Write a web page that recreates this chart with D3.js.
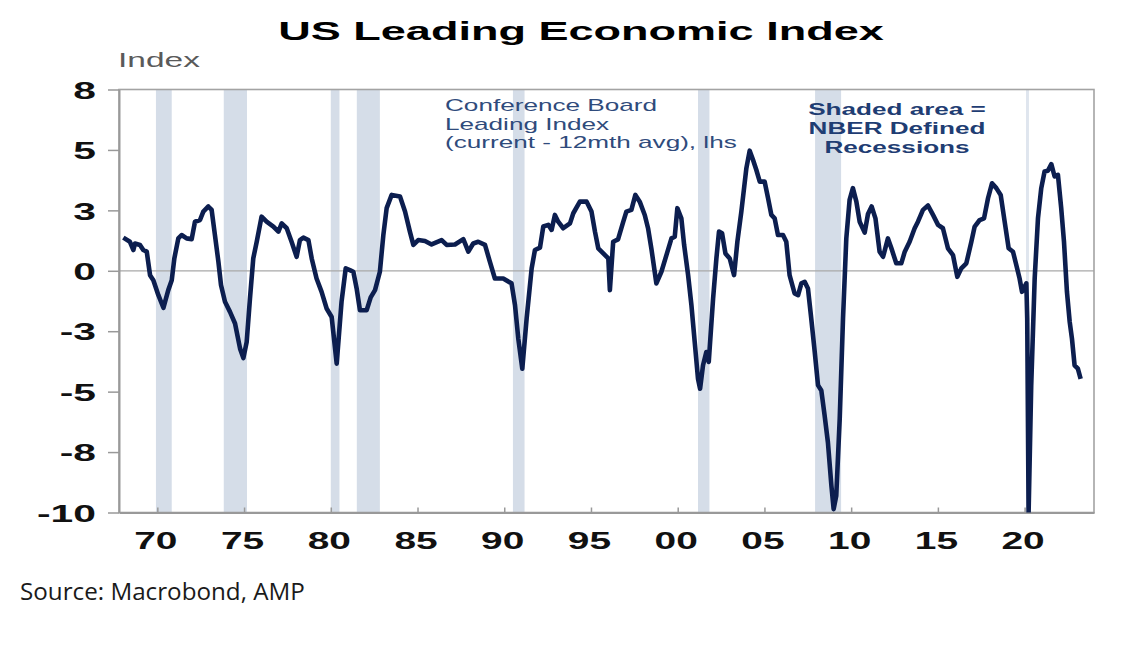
<!DOCTYPE html>
<html>
<head>
<meta charset="utf-8">
<script src="https://cdn.jsdelivr.net/npm/d3@7"></script>
<style>
  body { margin: 0; background: #fff; }
  text { font-family: "Liberation Sans", Arial, sans-serif; }
</style>
</head>
<body>
<svg id="chart"></svg>
<script>
// LEI, current minus 12 month average
const years = [
  1968.04, 1968.42, 1968.62, 1968.71, 1969.0, 1969.19, 1969.39, 1969.58, 1969.77, 1970.06,
  1970.35, 1970.63, 1970.83, 1970.98, 1971.21, 1971.4, 1971.69, 1971.98, 1972.17, 1972.46,
  1972.65, 1972.94, 1973.13, 1973.32, 1973.52, 1973.67, 1973.9, 1974.19, 1974.48, 1974.77,
  1974.96, 1975.15, 1975.34, 1975.53, 1975.73, 1976.01, 1976.3, 1976.69, 1976.98, 1977.17,
  1977.46, 1977.74, 1978.03, 1978.22, 1978.42, 1978.71, 1978.9, 1979.18, 1979.47, 1979.76,
  1980.05, 1980.34, 1980.62, 1980.86, 1981.1, 1981.3, 1981.49, 1981.68, 1982.07, 1982.3,
  1982.55, 1982.83, 1983.03, 1983.22, 1983.51, 1983.99, 1984.28, 1984.56, 1984.76, 1985.04,
  1985.43, 1985.81, 1986.39, 1986.68, 1987.16, 1987.64, 1987.93, 1988.21, 1988.5, 1988.89,
  1989.17, 1989.46, 1989.94, 1990.42, 1990.62, 1990.81, 1991.04, 1991.29, 1991.58, 1991.77,
  1992.06, 1992.25, 1992.54, 1992.73, 1992.92, 1993.11, 1993.4, 1993.79, 1993.98, 1994.36,
  1994.75, 1995.03, 1995.23, 1995.42, 1995.71, 1996.0, 1996.09, 1996.28, 1996.56, 1996.85,
  1997.04, 1997.33, 1997.56, 1997.81, 1998.1, 1998.29, 1998.48, 1998.77, 1999.06, 1999.35,
  1999.64, 1999.83, 1999.98, 2000.21, 2000.37, 2000.6, 2000.79, 2000.98, 2001.17, 2001.29,
  2001.46, 2001.65, 2001.79, 2002.04, 2002.23, 2002.38, 2002.56, 2002.75, 2003.0, 2003.25,
  2003.44, 2003.67, 2003.96, 2004.15, 2004.34, 2004.53, 2004.73, 2005.01, 2005.21, 2005.4,
  2005.59, 2005.78, 2006.07, 2006.26, 2006.45, 2006.74, 2006.94, 2007.13, 2007.32, 2007.51,
  2007.7, 2007.9, 2008.09, 2008.28, 2008.47, 2008.66, 2008.86, 2008.99, 2009.14, 2009.34,
  2009.53, 2009.72, 2009.91, 2010.1, 2010.3, 2010.49, 2010.78, 2010.97, 2011.18, 2011.4,
  2011.64, 2011.84, 2012.12, 2012.32, 2012.6, 2012.89, 2013.09, 2013.37, 2013.66, 2013.85,
  2014.14, 2014.43, 2014.72, 2015.01, 2015.29, 2015.58, 2015.87, 2016.12, 2016.35, 2016.64,
  2016.93, 2017.12, 2017.41, 2017.66, 2017.89, 2018.12, 2018.37, 2018.62, 2018.85, 2019.08,
  2019.33, 2019.52, 2019.71, 2019.85, 2020.1, 2020.15, 2020.23, 2020.38, 2020.58, 2020.77,
  2020.96, 2021.15, 2021.34, 2021.54, 2021.73, 2021.92, 2022.11, 2022.27, 2022.44, 2022.6,
  2022.73, 2022.88, 2023.07, 2023.23
];
const values = [
  1.37, 1.20, 0.86, 1.13, 1.07, 0.86, 0.79, -0.18, -0.39, -1.01,
  -1.53, -0.80, -0.39, 0.51, 1.34, 1.48, 1.34, 1.31, 2.03, 2.10,
  2.45, 2.66, 2.52, 1.48, 0.38, -0.59, -1.28, -1.70, -2.18, -3.22,
  -3.61, -2.95, -1.15, 0.51, 1.20, 2.24, 2.03, 1.83, 1.62, 1.96,
  1.76, 1.20, 0.58, 1.27, 1.37, 1.27, 0.51, -0.32, -0.87, -1.56,
  -1.91, -3.84, -1.28, 0.10, 0.03, -0.04, -0.73, -1.63, -1.63, -1.10,
  -0.80, -0.04, 1.48, 2.59, 3.14, 3.07, 2.45, 1.62, 1.07, 1.27,
  1.23, 1.09, 1.27, 1.07, 1.09, 1.31, 0.79, 1.13, 1.20, 1.07,
  0.38, -0.32, -0.32, -0.52, -1.42, -2.81, -4.05, -1.98, 0.10, 0.86,
  0.96, 1.83, 1.90, 1.69, 2.31, 2.03, 1.76, 1.96, 2.38, 2.86,
  2.86, 2.45, 1.62, 0.93, 0.72, 0.51, -0.80, 1.20, 1.30, 2.00,
  2.45, 2.52, 3.14, 2.86, 2.31, 1.76, 0.93, -0.52, -0.04, 0.65,
  1.34, 1.41, 2.59, 2.17, 1.07, -0.18, -1.42, -2.94, -4.47, -4.88,
  -3.91, -3.36, -3.77, -1.15, 0.51, 1.62, 1.55, 0.72, 0.51, -0.18,
  1.20, 2.45, 4.25, 4.97, 4.59, 4.18, 3.69, 3.69, 3.00, 2.31,
  2.17, 1.48, 1.48, 1.20, -0.18, -0.94, -1.01, -0.52, -0.46, -0.73,
  -1.98, -3.36, -4.74, -4.95, -5.99, -7.10, -8.89, -9.86, -9.31, -6.13,
  -1.98, 1.34, 2.93, 3.42, 2.86, 2.03, 1.58, 2.35, 2.66, 2.17,
  0.79, 0.58, 1.34, 0.93, 0.31, 0.31, 0.79, 1.20, 1.76, 2.03,
  2.52, 2.70, 2.31, 1.90, 1.76, 0.93, 0.65, -0.25, 0.10, 0.31,
  1.20, 1.83, 2.10, 2.17, 3.00, 3.62, 3.42, 3.14, 2.03, 0.93,
  0.79, 0.24, -0.32, -0.87, -0.52, -1.98, -10.0, -4.74, -0.32, 2.17,
  3.42, 4.11, 4.14, 4.41, 3.90, 3.97, 2.59, 1.20, -0.87, -2.12,
  -2.81, -3.91, -4.05, -4.47
];

// NBER recessions
const recStart = [1969.92, 1973.83, 1980.0, 1981.5, 1990.5, 2001.17, 2007.92, 2020.08];
const recEnd   = [1970.83, 1975.17, 1980.5, 1982.83, 1991.17, 2001.83, 2009.42, 2020.25];

// axis ticks
const xTickYears = [1970, 1975, 1980, 1985, 1990, 1995, 2000, 2005, 2010, 2015, 2020];
const xTickLabels = ["70", "75", "80", "85", "90", "95", "00", "05", "10", "15", "20"];
const yTickValues = [7.5, 5, 2.5, 0, -2.5, -5, -7.5, -10];
const yTickLabels = ["8", "5", "3", "0", "-3", "-5", "-8", "-10"];

const width = 1139;
const height = 646;
const plotLeft = 119, plotRight = 1094, plotTop = 89.5, plotBottom = 512.5;
const stretch = 1.62; // the source image is stretched sideways

const svg = d3.select('#chart')
    .attr('width', width)
    .attr('height', height)
    .attr('viewBox', [0, 0, width, height]);

const x = d3.scaleLinear().domain([1967.79, 2024.0]).range([plotLeft, plotRight]);
const y = d3.scaleLinear().domain([-10, 7.5]).range([plotBottom, plotTop]);

// squeeze/stretch a text to a given width
function fitText(sel, tx, ty, w) {
  const natural = sel.node().getComputedTextLength();
  sel.attr('transform', `translate(${tx},${ty}) scale(${w / natural},1)`);
}

// recession bars
svg.append('g')
  .selectAll('rect')
  .data(recStart)
  .join('rect')
    .attr('x', d => x(d))
    .attr('y', plotTop)
    .attr('width', (d, i) => Math.max(1.5, x(recEnd[i]) - x(d)))
    .attr('height', plotBottom - plotTop)
    .attr('fill', (d, i) => i === recStart.length - 1 ? '#dfe5ee' : '#d5dde8');

// zero line
svg.append('line')
    .attr('x1', plotLeft).attr('x2', plotRight)
    .attr('y1', y(0)).attr('y2', y(0))
    .attr('stroke', '#a8a8a8')
    .attr('stroke-width', 1.2);

// frame
svg.append('rect')
    .attr('x', plotLeft).attr('y', plotTop)
    .attr('width', plotRight - plotLeft).attr('height', plotBottom - plotTop)
    .attr('fill', 'none')
    .attr('stroke', '#a3a3a3')
    .attr('stroke-width', 1.6);

// y axis
const yAxis = svg.append('g')
    .attr('transform', `translate(${plotLeft},0)`)
    .call(d3.axisLeft(y)
      .tickValues(yTickValues)
      .tickFormat((d, i) => yTickLabels[i])
      .tickSize(11)
      .tickSizeOuter(0));
yAxis.select('.domain').attr('stroke', '#999').attr('stroke-width', 2);
yAxis.selectAll('.tick line').attr('stroke', '#999').attr('stroke-width', 1.5);
yAxis.selectAll('.tick text')
    .attr('x', 0).attr('dy', '0.36em')
    .attr('transform', `translate(-23,0) scale(${stretch + 0.08},1)`)
    .attr('fill', '#111')
    .style('font-size', '24px')
    .style('font-weight', 'bold');

// x axis
const xAxis = svg.append('g')
    .attr('transform', `translate(0,${plotBottom})`)
    .call(d3.axisBottom(x)
      .tickValues(xTickYears)
      .tickFormat((d, i) => xTickLabels[i])
      .tickSize(-5)
      .tickSizeOuter(0));
xAxis.select('.domain').attr('stroke', '#999').attr('stroke-width', 2);
xAxis.selectAll('.tick line').attr('stroke', '#999').attr('stroke-width', 1.5);
xAxis.selectAll('.tick text')
    .attr('y', 0).attr('dy', 0)
    .attr('transform', `translate(-2,36) scale(${stretch},1)`)
    .attr('fill', '#111')
    .style('font-size', '24px')
    .style('font-weight', 'bold');

// the index line
const points = years.map((d, i) => [d, values[i]]);
svg.append('defs').append('clipPath').attr('id', 'plot-clip')
  .append('rect')
    .attr('x', plotLeft).attr('y', plotTop - 2)
    .attr('width', plotRight - plotLeft).attr('height', plotBottom - plotTop + 2);

svg.append('path')
    .datum(points)
    .attr('clip-path', 'url(#plot-clip)')
    .attr('fill', 'none')
    .attr('stroke', '#0c1e4f')
    .attr('stroke-width', 4.6)
    .attr('stroke-linejoin', 'round')
    .attr('d', d3.line().x(d => x(d[0])).y(d => y(d[1])));

// title
const title = svg.append('text')
    .attr('text-anchor', 'middle')
    .attr('fill', '#000')
    .style('font-size', '26px')
    .style('font-weight', 'bold')
    .text('US Leading Economic Index');
fitText(title, 581, 40, 606);

// unit label
const unit = svg.append('text')
    .attr('fill', '#5a5a5a')
    .style('font-size', '21px')
    .text('Index');
fitText(unit, 118, 67, 82);

// series annotation
const cbLines = ['Conference Board', 'Leading Index', '(current - 12mth avg), lhs'];
const cbText = svg.append('g').selectAll('text')
  .data(cbLines)
  .join('text')
    .attr('fill', '#2f4b7c')
    .style('font-size', '17px')
    .text(d => d);
const cbScale = 292 / cbText.nodes()[2].getComputedTextLength();
cbText.attr('transform', (d, i) => `translate(445,${111 + i * 18.6}) scale(${cbScale},1)`);

// recession annotation
const recLines = ['Shaded area =', 'NBER Defined', 'Recessions'];
const recText = svg.append('g').selectAll('text')
  .data(recLines)
  .join('text')
    .attr('text-anchor', 'middle')
    .attr('fill', '#1f3d73')
    .style('font-size', '17px')
    .style('font-weight', 'bold')
    .text(d => d);
const recScale = 177 / recText.nodes()[1].getComputedTextLength();
recText.attr('transform', (d, i) => `translate(897,${115 + i * 18.8}) scale(${recScale},1)`);

// source
const source = svg.append('text')
    .attr('fill', '#1a1a1a')
    .style('font-family', '"Open Sans", "Noto Sans", sans-serif')
    .style('font-size', '24px')
    .text('Source: Macrobond, AMP');
fitText(source, 20, 600, 285);
</script>
</body>
</html>
